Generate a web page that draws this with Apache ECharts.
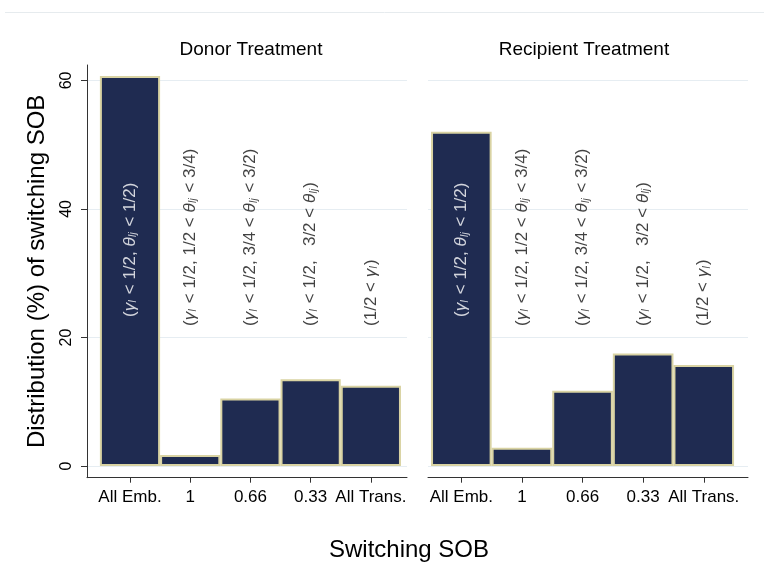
<!DOCTYPE html>
<html>
<head>
<meta charset="utf-8">
<script src="https://cdn.jsdelivr.net/npm/echarts@6/dist/echarts.min.js"></script>
<style>html,body{margin:0;padding:0;background:#fff}#c{width:764px;height:563px}</style>
</head>
<body>
<div id="c"></div>
<script>
// ---- data ----
const categories = ['All Emb.', '1', '0.66', '0.33', 'All Trans.'];
const panelTitles = ['Donor Treatment', 'Recipient Treatment'];
const donorValues = [60.7, 1.7, 10.5, 13.5, 12.5];
const recipientValues = [52.0, 2.85, 11.7, 17.5, 15.7];
const yTicks = [0, 20, 40, 60];
const xTicks = [0, 1, 2, 3, 4];
const labelY = [23.2, 21.8, 21.8, 21.8, 21.8];
const labelTexts = [
  '{p|(}{i|γ}{s|I}{p| < 1/2, }{i|θ}{s|Ij}{p| < 1/2)}',
  '{p|(}{i|γ}{s|I}{p| < 1/2, 1/2 < }{i|θ}{s|Ij}{p| < 3/4)}',
  '{p|(}{i|γ}{s|I}{p| < 1/2, 3/4 < }{i|θ}{s|Ij}{p| < 3/2)}',
  '{p|(}{i|γ}{s|I}{p| < 1/2,   3/2 < }{i|θ}{s|Ij}{p|)}',
  '{p|(1/2 < }{i|γ}{s|I}{p|)}'
];
const xTitle = 'Switching SOB';
const yTitle = 'Distribution (%) of switching SOB';

const FONT = '"Liberation Sans", Arial, sans-serif';
const NAVY = '#1f2b51';
const BEIGE = '#d9d3a3';

function richFor(color) {
  return {
    p: { fontSize: 17, color: color, fontFamily: FONT, fontStyle: 'normal' },
    i: { fontSize: 17, color: color, fontFamily: FONT, fontStyle: 'italic' },
    s: { fontSize: 10, color: color, fontFamily: FONT, fontStyle: 'italic', verticalAlign: 'bottom', padding: [0, 1, 0, 0] }
  };
}

function xAxisFor(gridIndex, min, max) {
  return {
    type: 'value', gridIndex: gridIndex, min: min, max: max,
    axisLine: { show: true, onZero: false, lineStyle: { color: '#333', width: 1 } },
    axisTick: { show: true, customValues: xTicks, length: 5, lineStyle: { color: '#333' } },
    axisLabel: { customValues: xTicks, formatter: v => categories[Math.round(v)], color: '#000', fontSize: 17, fontFamily: FONT, margin: 11 },
    splitLine: { show: false }
  };
}
function yAxisFor(gridIndex, showAxis) {
  const o = {
    type: 'value', gridIndex: gridIndex, min: -1.82, max: 62.4,
    axisLine: { show: showAxis, onZero: false, lineStyle: { color: '#333', width: 1 } },
    axisTick: { show: showAxis, customValues: yTicks, length: 6, lineStyle: { color: '#333' } },
    axisLabel: { show: showAxis, customValues: yTicks, rotate: 90, color: '#000', fontSize: 16, fontFamily: FONT, margin: 12 },
    splitLine: { show: true, lineStyle: { color: '#e6edf2', width: 1 } }
  };
  if (showAxis) {
    o.name = yTitle; o.nameLocation = 'middle'; o.nameGap = 38; o.nameRotate = 90;
    o.nameTextStyle = { fontSize: 24, color: '#000', fontFamily: FONT };
  }
  return o;
}
function barSeries(idx, values, width) {
  return {
    type: 'bar', xAxisIndex: idx, yAxisIndex: idx, barWidth: width,
    data: values.map((v, i) => [i, v]),
    itemStyle: { color: NAVY, borderColor: BEIGE, borderWidth: 2 },
    silent: true, animation: false
  };
}
function labelSeries(idx) {
  return {
    type: 'scatter', xAxisIndex: idx, yAxisIndex: idx, symbolSize: 0, z: 10,
    data: labelY.map((y, i) => ({
      value: [i, y],
      label: {
        show: true, position: 'inside', rotate: 90, align: 'left', verticalAlign: 'middle',
        formatter: labelTexts[i], rich: richFor(i === 0 ? '#ffffff' : '#111111')
      }
    })),
    silent: true, animation: false
  };
}

const chart = echarts.init(document.getElementById('c'), null, { renderer: 'canvas' });
chart.setOption({
  backgroundColor: '#ffffff',
  animation: false,
  textStyle: { fontFamily: FONT },
  title: [
    { text: panelTitles[0], left: 251, top: 40, textAlign: 'center', padding: 0, textStyle: { fontSize: 19, fontWeight: 'normal', color: '#000', fontFamily: FONT } },
    { text: panelTitles[1], left: 584, top: 40, textAlign: 'center', padding: 0, textStyle: { fontSize: 19, fontWeight: 'normal', color: '#000', fontFamily: FONT } },
    { text: xTitle, left: 409, top: 538, textAlign: 'center', padding: 0, textStyle: { fontSize: 24, fontWeight: 'normal', color: '#000', fontFamily: FONT } }
  ],
  graphic: [
    { type: 'line', shape: { x1: 5, y1: 12.5, x2: 764, y2: 12.5 }, style: { stroke: '#e6ebee', lineWidth: 1 }, silent: true }
  ],
  grid: [
    { left: 87, right: 764 - 407, top: 65, bottom: 563 - 477.7 },
    { left: 428, right: 764 - 748, top: 65, bottom: 563 - 477.7 }
  ],
  xAxis: [xAxisFor(0, -0.714, 4.6), xAxisFor(1, -0.55, 4.73)],
  yAxis: [yAxisFor(0, true), yAxisFor(1, false)],
  series: [
    barSeries(0, donorValues, 60.2),
    barSeries(1, recipientValues, 60.6),
    labelSeries(0),
    labelSeries(1)
  ]
});
</script>
</body>
</html>
